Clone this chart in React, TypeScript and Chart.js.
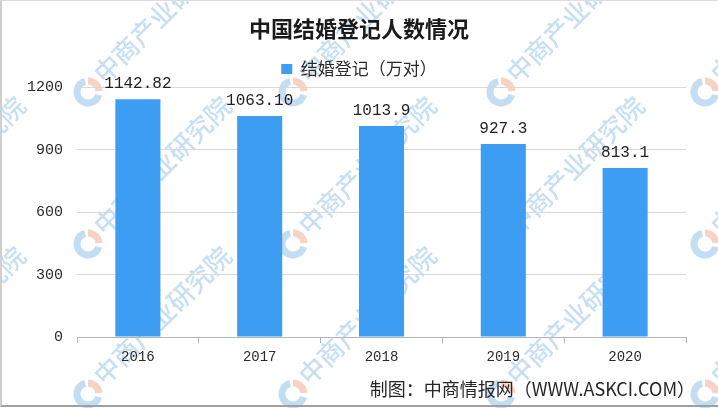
import React, { useEffect, useRef } from "react";
import { Chart, registerables } from "chart.js";

Chart.register(...registerables);

const TITLE = "中国结婚登记人数情况";
const SERIES_NAME = "结婚登记（万对）";
const SOURCE = "制图：中商情报网（WWW.ASKCI.COM）";
const WATERMARK = "中商产业研究院";

const categories = ["2016", "2017", "2018", "2019", "2020"];
const values = [1142.82, 1063.1, 1013.9, 927.3, 813.1];
const valueLabels = ["1142.82", "1063.10", "1013.9", "927.3", "813.1"];
const yTicks = [0, 300, 600, 900, 1200];

const BAR_COLOR = "#3D9DF2";
const TEXT_COLOR = "#2b2b2b";

const watermarkCols = [-118, 88, 293, 501, 705];
const watermarkRows = [92, 244, 394];

export default function App() {
  const ref = useRef<HTMLCanvasElement | null>(null);

  useEffect(() => {
    if (!ref.current) return;

    const watermarkPlugin = {
      id: "watermark",
      beforeDraw(chart: any) {
        const ctx = chart.ctx;
        ctx.save();
        ctx.fillStyle = "#ffffff";
        ctx.fillRect(0, 0, chart.width, chart.height);
        for (const y of watermarkRows) {
          for (const x of watermarkCols) {
            ctx.save();
            ctx.translate(x, y);
            // logo ring
            ctx.lineWidth = 7;
            ctx.strokeStyle = "rgba(175,210,238,0.75)";
            ctx.beginPath();
            ctx.arc(0, 0, 11, (15 * Math.PI) / 180, (255 * Math.PI) / 180);
            ctx.stroke();
            ctx.strokeStyle = "rgba(246,200,182,0.8)";
            ctx.beginPath();
            ctx.arc(0, 0, 11, (-90 * Math.PI) / 180, (-5 * Math.PI) / 180);
            ctx.stroke();
            // text
            ctx.rotate(-Math.PI / 4);
            ctx.font = "500 26px 'Noto Sans CJK SC'";
            ctx.fillStyle = "rgba(175,210,238,0.7)";
            ctx.textBaseline = "middle";
            ctx.textAlign = "left";
            ctx.fillText(WATERMARK, 17, -3);
            ctx.restore();
          }
        }
        ctx.restore();
      },
    };

    const labelPlugin = {
      id: "valueLabels",
      afterDatasetsDraw(chart: any) {
        const ctx = chart.ctx;
        const meta = chart.getDatasetMeta(0);
        ctx.save();
        ctx.font = "16px 'Liberation Mono'";
        ctx.fillStyle = "#1f1f1f";
        ctx.textAlign = "center";
        ctx.textBaseline = "alphabetic";
        meta.data.forEach((bar: any, i: number) => {
          ctx.fillText(valueLabels[i], bar.x, bar.y - 11);
        });
        ctx.restore();
      },
    };

    const sourcePlugin = {
      id: "sourceText",
      afterDraw(chart: any) {
        const ctx = chart.ctx;
        ctx.save();
        ctx.font = "18px 'Noto Sans CJK SC'";
        ctx.fillStyle = "#262626";
        ctx.textAlign = "right";
        ctx.textBaseline = "middle";
        ctx.fillText(SOURCE, 695, 389);
        ctx.restore();
      },
    };

    const chart = new Chart(ref.current, {
      type: "bar",
      data: {
        labels: categories,
        datasets: [
          {
            label: SERIES_NAME,
            data: values,
            backgroundColor: BAR_COLOR,
            borderWidth: 0,
            categoryPercentage: 1,
            barPercentage: 0.37,
            yAxisID: "y",
          },
        ],
      },
      options: {
        responsive: false,
        animation: false,
        devicePixelRatio: 1,
        layout: { padding: { left: 0, right: 0, top: 1, bottom: 0 } },
        plugins: {
          title: {
            display: true,
            text: TITLE,
            color: "#1a1a1a",
            font: { family: "'Noto Sans CJK SC'", size: 22, weight: "bold" },
            padding: { top: 14, bottom: 9 },
          },
          legend: {
            display: true,
            position: "top",
            labels: {
              boxWidth: 11,
              boxHeight: 10,
              color: TEXT_COLOR,
              font: { family: "'Noto Sans CJK SC'", size: 17 },
              padding: 10,
            },
          },
          tooltip: { enabled: false },
        },
        scales: {
          x: {
            grid: {
              drawOnChartArea: false,
              drawTicks: true,
              tickLength: 6,
              color: "#b5b5b5",
              offset: true,
            },
            border: { color: "#b5b5b5", width: 1 },
            ticks: {
              color: TEXT_COLOR,
              font: { family: "'Liberation Mono'", size: 14 },
              padding: 6,
            },
            afterFit(scale: any) {
              scale.height = 71;
            },
          },
          y: {
            min: 0,
            max: 1200,
            afterBuildTicks(scale: any) {
              scale.ticks = yTicks.map((v) => ({ value: v }));
            },
            grid: { color: "#d9d9d9", drawTicks: false },
            border: { display: false },
            ticks: {
              color: TEXT_COLOR,
              font: { family: "'Liberation Mono'", size: 15 },
              padding: 14,
              callback: (v: any) => String(v),
            },
            afterFit(scale: any) {
              scale.width = 77;
            },
          },
          yRight: {
            position: "right",
            min: 0,
            max: 1200,
            grid: { display: false, drawTicks: false },
            border: { display: false },
            ticks: { display: false },
            afterFit(scale: any) {
              scale.width = 32;
            },
          },
        },
      },
      plugins: [watermarkPlugin, labelPlugin, sourcePlugin],
    });

    return () => chart.destroy();
  }, []);

  return (
    <div style={{ position: "fixed", left: 0, top: 0, width: 718, height: 408, background: "#fff" }}>
      <canvas ref={ref} width={718} height={408} style={{ display: "block" }} />
      <div
        style={{
          position: "absolute",
          left: 0,
          top: 0,
          width: 718,
          height: 407,
          boxSizing: "border-box",
          borderLeft: "2px solid #cfcfcf",
          borderTop: "1px solid #dcdcdc",
          borderBottom: "2px solid #a0a0a0",
          pointerEvents: "none",
        }}
      />
    </div>
  );
}
